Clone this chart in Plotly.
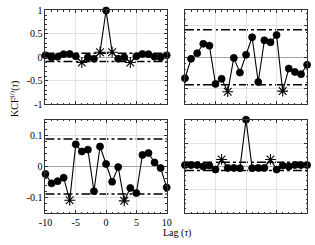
import plotly.graph_objects as go

lags = list(range(-10, 11))

# Top-left: auto-correlation of series 1
kcf_11 = [0.045, 0.0, 0.012, 0.068, 0.072, 0.025, -0.11, 0.0, -0.03, 0.11, 1.0,
          0.11, -0.03, 0.0, -0.11, 0.025, 0.072, 0.068, 0.012, 0.0, 0.045]
# Top-right: cross-correlation 1-2
kcf_12 = [-0.067, -0.005, 0.013, 0.043, 0.037, -0.085, -0.069, -0.110, -0.002, -0.049, 0.008,
          0.064, -0.079, 0.054, 0.048, 0.071, -0.108, -0.036, -0.047, -0.054, -0.024]
# Bottom-left: cross-correlation 2-1
kcf_21 = [-0.024, -0.054, -0.047, -0.036, -0.108, 0.071, 0.048, 0.054, -0.079, 0.064, 0.008,
          -0.049, -0.002, -0.110, -0.069, -0.085, 0.037, 0.043, 0.013, -0.005, -0.067]
# Bottom-right: auto-correlation of series 2
kcf_22 = [0.03, 0.03, 0.03, 0.0, 0.02, -0.065, 0.15, -0.03, -0.03, -0.035, 1.0,
          -0.035, -0.03, -0.03, 0.15, -0.065, 0.02, 0.0, 0.03, 0.03, 0.03]

threshold = 0.088

x_ticks = [-10, -5, 0, 5, 10]
x_ticktext = ["-10", "-5", "0", "5", "10"]
y_ticks_auto = [-1, -0.5, 0, 0.5, 1]
y_ticktext_auto = ["-1", "-0.5", "0", "0.5", "1"]
y_ticks_cross = [-0.1, 0, 0.1]
y_ticktext_cross = ["-0.1", "0", "0.1"]

FONT = "Liberation Serif"
W, H = 315, 245

panels = [
    # (values, is_auto, axis suffix, x px range, y px range (top,bottom), yrange, show x labels, show y labels)
    (kcf_11, True, "", (40, 166), (4.7, 103.3), [-1, 1], False, True),
    (kcf_12, False, "2", (185, 312), (4.5, 103.3), [-0.15, 0.15], False, False),
    (kcf_21, False, "3", (40, 166), (119.5, 218), [-0.15, 0.15], True, True),
    (kcf_22, True, "4", (185, 312), (119.5, 218), [-1, 1], False, False),
]

fig = go.Figure()
layout = {}
shapes = []
for vals, is_auto, suf, (x0, x1), (yt, yb), yr, showx, showy in panels:
    symbols, lw, sizes = [], [], []
    for l, v in zip(lags, vals):
        sig = abs(v) > threshold and not (is_auto and l == 0)
        symbols.append("asterisk-open" if sig else "circle")
        lw.append(1.1 if sig else 0.8)
        sizes.append(9 if sig else 7)
    fig.add_trace(go.Scatter(
        x=lags, y=vals, mode="lines+markers",
        xaxis="x" + suf, yaxis="y" + suf,
        line=dict(color="black", width=1.1),
        marker=dict(symbol=symbols, size=sizes, color="#000000", opacity=1,
                    line=dict(color="#000000", width=lw)),
        showlegend=False, cliponaxis=False, hoverinfo="skip",
    ))
    xname = "xaxis" + suf
    yname = "yaxis" + suf
    layout[xname] = dict(
        domain=[x0 / W, x1 / W], range=[-10, 10], anchor="y" + suf,
        tickvals=x_ticks, ticktext=x_ticktext, showticklabels=showx,
        ticks="inside", ticklen=3, tickcolor="#333", mirror="allticks",
        showline=True, linecolor="#333", linewidth=0.8,
        showgrid=True, gridcolor="#e3e3e3", gridwidth=0.8, zeroline=False,
        minor=dict(dtick=1, ticks="inside", ticklen=1.5, tickcolor="#333", showgrid=False),
        tickfont=dict(family=FONT, size=10, color="black"),
        ticklabeloverflow="allow",
    )
    layout[yname] = dict(
        domain=[(H - yb) / H, (H - yt) / H], range=yr, anchor="x" + suf,
        tickvals=y_ticks_auto if is_auto else y_ticks_cross,
        ticktext=y_ticktext_auto if is_auto else y_ticktext_cross,
        showticklabels=showy,
        ticks="inside", ticklen=3, tickcolor="#333", mirror="allticks",
        showline=True, linecolor="#333", linewidth=0.8,
        showgrid=True, gridcolor="#e3e3e3", gridwidth=0.8,
        zeroline=True, zerolinecolor="#a6a6a6", zerolinewidth=1,
        minor=dict(dtick=0.1 if is_auto else 0.02, ticks="inside", ticklen=1.5,
                   tickcolor="#333", showgrid=False),
        tickfont=dict(family=FONT, size=10, color="black"),
        ticklabeloverflow="allow",
    )
    for s in (1, -1):
        shapes.append(dict(type="line", xref="x" + suf + " domain", yref="y" + suf,
                           x0=0, x1=1, y0=s * threshold, y1=s * threshold,
                           line=dict(color="black", width=1.5, dash="dashdot"),
                           layer="below"))

fig.update_layout(
    width=W, height=H,
    margin=dict(l=0, r=0, t=0, b=0),
    paper_bgcolor="white", plot_bgcolor="white",
    shapes=shapes,
    annotations=[
        dict(text="Lag (<i>τ</i>)", x=177 / W, y=(H - 238.5) / H, xref="paper", yref="paper",
             showarrow=False, font=dict(family=FONT, size=10, color="black"),
             xanchor="center", yanchor="middle"),
        dict(text="KCF<sup>(<i>i</i>)</sup>(<i>τ</i>)", x=7 / W, y=(H - 98) / H,
             xref="paper", yref="paper", textangle=-90,
             showarrow=False, font=dict(family=FONT, size=10, color="black"),
             xanchor="center", yanchor="middle"),
    ],
    **layout,
)

fig.write_html("out.html", post_script="document.body.style.margin='0';",
               config={"displayModeBar": False})
